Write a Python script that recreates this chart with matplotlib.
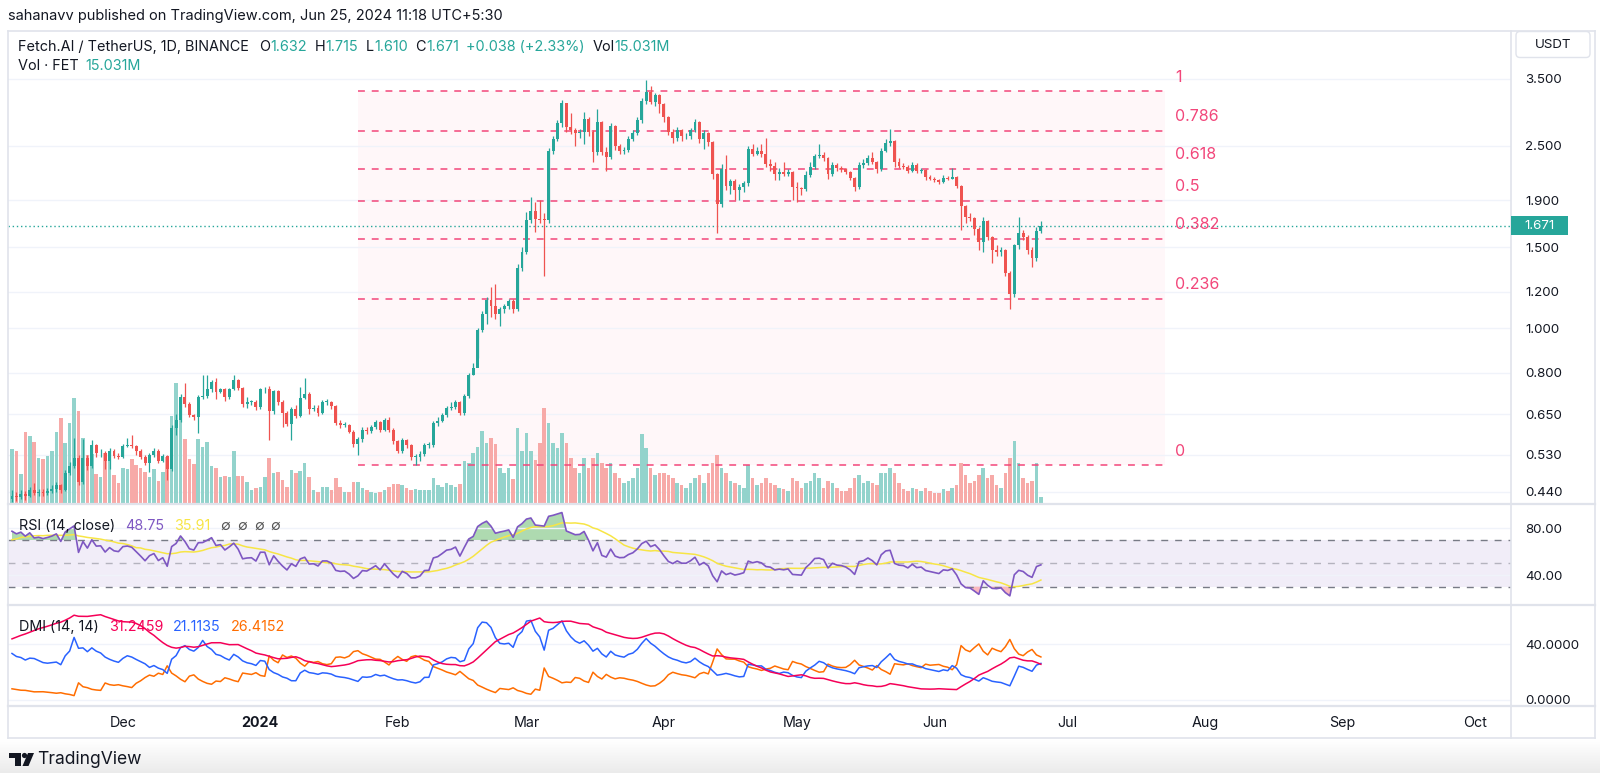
import matplotlib
matplotlib.use("Agg")

import numpy as np
import pandas as pd
import matplotlib.pyplot as plt
from matplotlib.patches import Rectangle, FancyBboxPatch, Circle, Polygon
from matplotlib.colors import LinearSegmentedColormap

# ================= DATA =================
START = "2023-11-06"

# a month of candles before the visible window, only used to warm up RSI / DMI
WARM_CLOSE = [0.300, 0.294, 0.303, 0.297, 0.291, 0.299, 0.305, 0.298, 0.292, 0.300, 0.296,
              0.303, 0.299, 0.306, 0.302, 0.312, 0.306, 0.318, 0.334, 0.326, 0.345, 0.356,
              0.348, 0.368, 0.379, 0.370, 0.390, 0.402, 0.395, 0.418, 0.425]
WARM_HIGH = [0.307, 0.303, 0.309, 0.305, 0.298, 0.305, 0.311, 0.307, 0.299, 0.306, 0.304,
             0.309, 0.306, 0.312, 0.310, 0.318, 0.315, 0.326, 0.340, 0.338, 0.352, 0.362,
             0.358, 0.375, 0.385, 0.382, 0.397, 0.408, 0.405, 0.426, 0.432]
WARM_LOW = [0.293, 0.288, 0.292, 0.290, 0.285, 0.289, 0.296, 0.292, 0.286, 0.290, 0.289,
            0.294, 0.293, 0.297, 0.296, 0.300, 0.296, 0.313, 0.316, 0.310, 0.335, 0.338,
            0.330, 0.356, 0.360, 0.352, 0.380, 0.384, 0.378, 0.408, 0.417]

# daily FET/USDT candles, 2023-11-06 .. 2024-06-25 (open = previous close)
CLOSE = [
    0.432, 0.428, 0.436, 0.430, 0.445, 0.437, 0.440, 0.438, 0.442, 0.447,
    0.455, 0.445, 0.483, 0.500, 0.521, 0.463, 0.521, 0.500, 0.557, 0.534,
    0.536, 0.513, 0.540, 0.528, 0.525, 0.554, 0.558, 0.554, 0.540, 0.525,
    0.508, 0.530, 0.540, 0.515, 0.527, 0.493, 0.605, 0.631, 0.710, 0.684,
    0.647, 0.640, 0.710, 0.712, 0.736, 0.765, 0.727, 0.736, 0.709, 0.736,
    0.770, 0.740, 0.684, 0.690, 0.692, 0.673, 0.736, 0.736, 0.660, 0.729,
    0.690, 0.653, 0.620, 0.666, 0.645, 0.705, 0.720, 0.668, 0.670, 0.653,
    0.690, 0.690, 0.676, 0.623, 0.615, 0.617, 0.595, 0.560, 0.573, 0.600,
    0.597, 0.610, 0.624, 0.600, 0.631, 0.600, 0.567, 0.540, 0.571, 0.557,
    0.525, 0.525, 0.533, 0.557, 0.558, 0.621, 0.629, 0.648, 0.670, 0.675,
    0.690, 0.653, 0.712, 0.790, 0.820, 0.990, 1.075, 1.150, 1.120, 1.075,
    1.100, 1.120, 1.145, 1.100, 1.350, 1.470, 1.720, 1.800, 1.730, 1.725,
    1.720, 2.440, 2.580, 2.800, 3.090, 2.740, 2.700, 2.660, 2.680, 2.860,
    2.680, 2.420, 2.820, 2.420, 2.360, 2.760, 2.500, 2.440, 2.450, 2.580,
    2.660, 2.840, 3.130, 3.280, 3.120, 3.220, 3.080, 2.880, 2.680, 2.600,
    2.700, 2.620, 2.620, 2.700, 2.820, 2.580, 2.660, 2.550, 2.170, 1.870,
    2.220, 2.040, 2.090, 2.000, 2.030, 2.070, 2.460, 2.400, 2.440, 2.400,
    2.280, 2.260, 2.170, 2.190, 2.170, 2.190, 2.030, 2.020, 2.010, 2.160,
    2.250, 2.370, 2.380, 2.350, 2.170, 2.270, 2.230, 2.220, 2.190, 2.130,
    2.030, 2.270, 2.290, 2.350, 2.300, 2.220, 2.440, 2.540, 2.560, 2.300,
    2.260, 2.250, 2.200, 2.270, 2.200, 2.210, 2.140, 2.120, 2.100, 2.080,
    2.130, 2.120, 2.140, 2.040, 1.850, 1.750, 1.740, 1.650, 1.540, 1.710,
    1.580, 1.480, 1.470, 1.480, 1.320, 1.190, 1.520, 1.610, 1.580, 1.480,
    1.420, 1.632, 1.671,
]
HIGH = [
    0.445, 0.440, 0.444, 0.441, 0.452, 0.459, 0.447, 0.446, 0.449, 0.455,
    0.462, 0.458, 0.490, 0.512, 0.578, 0.530, 0.575, 0.530, 0.571, 0.560,
    0.545, 0.540, 0.548, 0.545, 0.535, 0.560, 0.578, 0.585, 0.558, 0.545,
    0.530, 0.536, 0.548, 0.545, 0.532, 0.530, 0.615, 0.650, 0.718, 0.760,
    0.690, 0.652, 0.716, 0.790, 0.790, 0.772, 0.780, 0.742, 0.740, 0.742,
    0.790, 0.775, 0.745, 0.709, 0.698, 0.698, 0.742, 0.745, 0.748, 0.735,
    0.735, 0.698, 0.660, 0.674, 0.680, 0.746, 0.780, 0.725, 0.682, 0.680,
    0.698, 0.700, 0.695, 0.680, 0.630, 0.625, 0.620, 0.600, 0.580, 0.608,
    0.610, 0.617, 0.632, 0.628, 0.638, 0.642, 0.605, 0.570, 0.577, 0.575,
    0.560, 0.532, 0.540, 0.562, 0.565, 0.628, 0.640, 0.655, 0.677, 0.690,
    0.697, 0.695, 0.720, 0.798, 0.840, 1.000, 1.090, 1.170, 1.230, 1.250,
    1.115, 1.130, 1.160, 1.160, 1.380, 1.500, 1.790, 1.930, 1.880, 1.900,
    1.780, 2.470, 2.620, 2.850, 3.150, 3.100, 2.950, 2.730, 2.720, 2.960,
    2.880, 2.700, 3.000, 2.830, 2.480, 2.800, 2.780, 2.520, 2.480, 2.620,
    2.700, 2.880, 3.180, 3.480, 3.380, 3.260, 3.240, 3.100, 2.900, 2.720,
    2.740, 2.720, 2.660, 2.730, 2.860, 2.830, 2.700, 2.680, 2.560, 2.180,
    2.280, 2.380, 2.120, 2.110, 2.060, 2.090, 2.500, 2.520, 2.480, 2.520,
    2.600, 2.340, 2.300, 2.240, 2.300, 2.220, 2.200, 2.080, 2.030, 2.200,
    2.300, 2.400, 2.520, 2.420, 2.360, 2.300, 2.290, 2.260, 2.240, 2.200,
    2.140, 2.300, 2.340, 2.380, 2.420, 2.310, 2.470, 2.580, 2.720, 2.570,
    2.350, 2.290, 2.270, 2.300, 2.290, 2.240, 2.220, 2.160, 2.140, 2.120,
    2.160, 2.150, 2.240, 2.150, 2.050, 1.860, 1.780, 1.750, 1.660, 1.750,
    1.720, 1.590, 1.520, 1.500, 1.490, 1.330, 1.530, 1.750, 1.640, 1.600,
    1.500, 1.660, 1.715,
]
LOW = [
    0.418, 0.420, 0.424, 0.423, 0.428, 0.433, 0.432, 0.431, 0.433, 0.437,
    0.440, 0.438, 0.443, 0.478, 0.497, 0.455, 0.458, 0.492, 0.497, 0.525,
    0.525, 0.493, 0.493, 0.522, 0.518, 0.522, 0.550, 0.548, 0.530, 0.518,
    0.503, 0.486, 0.525, 0.508, 0.510, 0.467, 0.488, 0.585, 0.625, 0.675,
    0.640, 0.630, 0.590, 0.700, 0.706, 0.728, 0.700, 0.722, 0.695, 0.700,
    0.732, 0.732, 0.675, 0.672, 0.680, 0.665, 0.668, 0.722, 0.571, 0.650,
    0.682, 0.610, 0.612, 0.571, 0.636, 0.640, 0.700, 0.650, 0.660, 0.645,
    0.650, 0.680, 0.668, 0.615, 0.605, 0.608, 0.590, 0.552, 0.530, 0.565,
    0.588, 0.590, 0.603, 0.594, 0.598, 0.594, 0.560, 0.535, 0.535, 0.548,
    0.517, 0.503, 0.515, 0.528, 0.548, 0.552, 0.612, 0.625, 0.640, 0.665,
    0.668, 0.646, 0.648, 0.705, 0.790, 0.860, 0.980, 1.020, 1.060, 1.050,
    1.010, 1.080, 1.100, 1.080, 1.090, 1.330, 1.450, 1.700, 1.620, 1.700,
    1.300, 1.700, 2.400, 2.560, 2.750, 2.680, 2.650, 2.500, 2.600, 2.520,
    2.620, 2.300, 2.380, 2.380, 2.200, 2.340, 2.450, 2.400, 2.400, 2.420,
    2.560, 2.640, 2.800, 3.080, 3.080, 3.050, 2.950, 2.820, 2.640, 2.540,
    2.560, 2.560, 2.580, 2.580, 2.680, 2.540, 2.460, 2.500, 2.120, 1.610,
    1.840, 2.000, 1.960, 1.900, 1.900, 1.980, 2.040, 2.370, 2.380, 2.360,
    2.250, 2.200, 2.100, 2.100, 2.150, 2.150, 1.900, 1.880, 1.950, 1.990,
    2.140, 2.220, 2.350, 2.320, 2.120, 2.150, 2.200, 2.190, 2.170, 2.100,
    1.990, 2.010, 2.240, 2.270, 2.280, 2.180, 2.200, 2.420, 2.500, 2.250,
    2.230, 2.220, 2.180, 2.190, 2.180, 2.180, 2.100, 2.100, 2.080, 2.060,
    2.070, 2.100, 2.110, 2.020, 1.640, 1.700, 1.710, 1.600, 1.480, 1.470,
    1.560, 1.390, 1.440, 1.440, 1.300, 1.100, 1.170, 1.490, 1.560, 1.450,
    1.360, 1.400, 1.610,
]
# volume, millions of FET
VOLUME_M = [
    134, 130, 72, 177, 168, 152, 112, 109, 118, 130,
    177, 212, 149, 201, 262, 230, 163, 120, 122, 72,
    64, 124, 106, 69, 51, 87, 86, 110, 95, 87,
    78, 64, 85, 56, 77, 116, 218, 299, 249, 160,
    110, 98, 160, 141, 152, 93, 87, 64, 68, 64,
    131, 68, 68, 53, 33, 37, 41, 66, 113, 75,
    78, 58, 41, 83, 74, 81, 101, 64, 33, 28,
    39, 41, 33, 62, 41, 28, 28, 53, 53, 37,
    33, 27, 24, 28, 33, 41, 47, 47, 45, 38,
    33, 34, 33, 33, 33, 63, 45, 41, 49, 45,
    41, 47, 105, 101, 126, 141, 181, 149, 162, 148,
    87, 74, 87, 60, 187, 131, 176, 131, 108, 150,
    238, 200, 150, 138, 175, 150, 113, 88, 75, 113,
    88, 113, 125, 100, 88, 100, 75, 63, 50, 55,
    63, 88, 172, 138, 88, 70, 75, 75, 70, 63,
    50, 45, 38, 50, 63, 70, 50, 75, 100, 120,
    88, 75, 55, 50, 45, 38, 95, 63, 45, 50,
    63, 50, 45, 38, 35, 30, 63, 55, 38, 50,
    55, 75, 63, 38, 55, 50, 38, 30, 30, 38,
    63, 70, 50, 55, 50, 45, 75, 75, 88, 75,
    50, 35, 30, 38, 35, 30, 38, 30, 25, 25,
    35, 30, 38, 45, 100, 70, 50, 55, 70, 88,
    63, 70, 45, 38, 75, 113, 155, 100, 63, 50,
    55, 100, 15,
]

# fib retracement drawing: anchor prices and the dates it spans
FIB_LOW, FIB_HIGH = 0.503, 3.29
FIB_FROM, FIB_TO = "2024-01-23", "2024-07-23"
FIB_LEVELS = [0, 0.236, 0.382, 0.5, 0.618, 0.786, 1]
FIB_LABELS = ["0", "0.236", "0.382", "0.5", "0.618", "0.786", "1"]

LAST_PRICE = 1.671
PRICE_TICKS = [3.5, 2.5, 1.9, 1.5, 1.2, 1.0, 0.8, 0.65, 0.53, 0.44]
PRICE_TICK_LABELS = ["3.500", "2.500", "1.900", "1.500", "1.200", "1.000", "0.800", "0.650", "0.530", "0.440"]

MONTH_DATES = ["2023-12-01", "2024-01-01", "2024-02-01", "2024-03-01", "2024-04-01", "2024-05-01",
               "2024-06-01", "2024-07-01", "2024-08-01", "2024-09-01", "2024-10-01"]
MONTH_LABELS = ["Dec", "2024", "Feb", "Mar", "Apr", "May", "Jun", "Jul", "Aug", "Sep", "Oct"]
# ========================================

W, H = 1600, 773
UP, DOWN = "#26a69a", "#ef5350"
VOL_UP, VOL_DOWN = "#93d3cc", "#f7aaa8"
FIB_COL = "#f2467a"
GRID = "#f0f3fa"
BORDER = "#e0e3eb"
TXT = "#131722"
X_LIM = (-0.9, 338.0)

plt.rcParams["font.family"] = ["Inter", "DejaVu Sans"]


def px_rect(x0, y0, x1, y1):
    return [x0 / W, 1 - y1 / H, (x1 - x0) / W, (y1 - y0) / H]


def day(s):
    return (pd.Timestamp(s) - pd.Timestamp(START)).days


def rma(values, n):
    """Wilder moving average, seeded with the SMA of the first n valid values."""
    v = np.asarray(values, dtype=float)
    out = np.full(len(v), np.nan)
    valid = np.where(~np.isnan(v))[0]
    if len(valid) < n:
        return out
    s = valid[0]
    out[s + n - 1] = v[s:s + n].mean()
    for i in range(s + n, len(v)):
        out[i] = out[i - 1] + (v[i] - out[i - 1]) / n
    return out


def calc_rsi(close, n=14):
    d = np.diff(close, prepend=np.nan)
    up = rma(np.where(np.isnan(d), np.nan, np.clip(d, 0, None)), n)
    dn = rma(np.where(np.isnan(d), np.nan, np.clip(-d, 0, None)), n)
    return 100 - 100 / (1 + up / dn)


def calc_dmi(high, low, close, n=14, smooth=14):
    up = np.diff(high, prepend=np.nan)
    dn = -np.diff(low, prepend=np.nan)
    plus_dm = np.where((up > dn) & (up > 0), up, 0.0)
    minus_dm = np.where((dn > up) & (dn > 0), dn, 0.0)
    plus_dm[0] = minus_dm[0] = np.nan
    prev_c = np.concatenate([[np.nan], close[:-1]])
    tr = np.nanmax(np.vstack([high - low, np.abs(high - prev_c), np.abs(low - prev_c)]), axis=0)
    tr[0] = np.nan
    atr = rma(tr, n)
    plus = 100 * rma(plus_dm, n) / atr
    minus = 100 * rma(minus_dm, n) / atr
    s = plus + minus
    s = np.where(s == 0, 1, s)
    adx = 100 * rma(np.abs(plus - minus) / s, smooth)
    return plus, minus, adx


def main():
    n_warm = len(WARM_CLOSE)
    close_all = np.array(WARM_CLOSE + CLOSE, dtype=float)
    high_all = np.array(WARM_HIGH + HIGH, dtype=float)
    low_all = np.array(WARM_LOW + LOW, dtype=float)

    rsi_all = calc_rsi(close_all)
    rsi_ma_all = pd.Series(rsi_all).rolling(14).mean().values
    plus_all, minus_all, adx_all = calc_dmi(high_all, low_all, close_all)

    close = np.array(CLOSE)
    opn = close_all[n_warm - 1:-1]
    high = np.array(HIGH)
    low = np.array(LOW)
    vol = np.array(VOLUME_M, dtype=float)
    x = np.arange(len(CLOSE))
    rsi = rsi_all[n_warm:]
    rsi_ma = rsi_ma_all[n_warm:]
    plus = plus_all[n_warm:]
    minus = minus_all[n_warm:]
    adx = adx_all[n_warm:]

    is_up = close >= opn

    fig = plt.figure(figsize=(W / 100, H / 100), dpi=100)
    fig.patch.set_facecolor("white")

    # ---------- main pane: background layer ----------
    main_rect = px_rect(8, 31, 1511, 503)
    p_lim = (0.4162, 4.445)
    bg = fig.add_axes(main_rect, zorder=1)
    bg.set_yscale("log")
    bg.set_ylim(*p_lim)
    bg.set_xlim(*X_LIM)
    bg.axis("off")
    for p in PRICE_TICKS:
        bg.axhline(p, color=GRID, lw=1.0)
    fib_prices = [FIB_LOW + lv * (FIB_HIGH - FIB_LOW) for lv in FIB_LEVELS]
    f0, f1 = day(FIB_FROM), day(FIB_TO)
    bg.fill_between([f0, f1], fib_prices[0], fib_prices[-1], color="#fff7f9", lw=0)

    # ---------- volume layer ----------
    vax = fig.add_axes(main_rect, zorder=2)
    vax.patch.set_alpha(0)
    vax.set_xlim(*X_LIM)
    vax.set_ylim(0, 1180)
    vax.axis("off")
    vax.bar(x, vol, width=0.8, color=np.where(is_up, VOL_UP, VOL_DOWN), lw=0)

    # ---------- candles, fib lines ----------
    ax = fig.add_axes(main_rect, zorder=3)
    ax.patch.set_alpha(0)
    ax.set_yscale("log")
    ax.set_ylim(*p_lim)
    ax.set_xlim(*X_LIM)
    for s in ax.spines.values():
        s.set_visible(False)
    ax.set_xticks([])
    ax.yaxis.set_minor_locator(matplotlib.ticker.NullLocator())
    ax.set_yticks(PRICE_TICKS)
    ax.set_yticklabels(PRICE_TICK_LABELS)
    ax.yaxis.tick_right()
    ax.tick_params(axis="y", length=0, pad=10, labelsize=9.6, labelcolor=TXT)

    for p, lab in zip(fib_prices, FIB_LABELS):
        ax.plot([f0, f1], [p, p], color=FIB_COL, lw=1.1, ls=(0, (4.5, 4.5)), zorder=2)
        ax.annotate(lab, (f1, p), xytext=(7, 6.8), textcoords="offset points",
                    color=FIB_COL, fontsize=11.5, ha="left", va="baseline")

    ccol = np.where(is_up, UP, DOWN)
    ax.vlines(x, low, high, colors=ccol, lw=0.9, zorder=3)
    body_lo = np.minimum(opn, close)
    body_hi = np.maximum(opn, close)
    body_h = np.maximum(body_hi - body_lo, body_lo * 0.004)
    ax.bar(x, body_h, bottom=body_lo, width=0.66, color=ccol, lw=0, zorder=4)

    ax.axhline(LAST_PRICE, color=UP, lw=1.0, ls=(0, (1, 2)), zorder=1)

    # ---------- RSI pane ----------
    rax = fig.add_axes(px_rect(8, 505, 1511, 603), zorder=2)
    rax.set_xlim(*X_LIM)
    rax.set_ylim(16, 100)
    for s in rax.spines.values():
        s.set_visible(False)
    rax.set_xticks([])
    rax.set_yticks([80, 40])
    rax.set_yticklabels(["80.00", "40.00"])
    rax.yaxis.tick_right()
    rax.tick_params(axis="y", length=0, pad=10, labelsize=9.6, labelcolor=TXT)
    rax.axhline(80, color=GRID, lw=1.0)
    rax.axhline(40, color=GRID, lw=1.0)
    rax.axhspan(30, 70, color="#7e57c2", alpha=0.1, lw=0)
    rax.axhline(70, color="#787b86", lw=1.0, ls=(0, (5, 5)))
    rax.axhline(50, color="#787b86", lw=1.0, ls=(0, (5, 5)), alpha=0.5)
    rax.axhline(30, color="#787b86", lw=1.0, ls=(0, (5, 5)))
    rax.fill_between(x, 70, rsi, where=rsi > 70, interpolate=True, color="#4caf50", alpha=0.45, lw=0)
    rax.fill_between(x, 30, rsi, where=rsi < 30, interpolate=True, color="#f23645", alpha=0.35, lw=0)
    rax.plot(x, rsi_ma, color="#f7e545", lw=1.1)
    rax.plot(x, rsi, color="#7e57c2", lw=1.2)

    # ---------- DMI pane ----------
    dax = fig.add_axes(px_rect(8, 606, 1511, 705), zorder=2)
    dax.set_xlim(*X_LIM)
    dax.set_ylim(-3.6, 67.5)
    for s in dax.spines.values():
        s.set_visible(False)
    dax.set_xticks([])
    dax.set_yticks([40, 0])
    dax.set_yticklabels(["40.0000", "0.0000"])
    dax.yaxis.tick_right()
    dax.tick_params(axis="y", length=0, pad=10, labelsize=9.6, labelcolor=TXT)
    dax.axhline(40, color=GRID, lw=1.0)
    dax.axhline(0, color=GRID, lw=1.0)
    dax.plot(x, minus, color="#ff6d00", lw=1.1)
    dax.plot(x, plus, color="#2962ff", lw=1.1)
    dax.plot(x, adx, color="#f50057", lw=1.1)

    # ---------- time scale ----------
    tax = fig.add_axes(px_rect(8, 706, 1511, 738), zorder=2)
    tax.set_xlim(*X_LIM)
    tax.set_ylim(0, 1)
    tax.axis("off")
    for d, lab in zip(MONTH_DATES, MONTH_LABELS):
        tax.text(day(d), 0.47, lab, ha="center", va="center", fontsize=10.3, color=TXT,
                 fontweight="bold" if lab == "2024" else "normal")

    # ---------- overlay: frame, legends, labels ----------
    top = fig.add_axes([0, 0, 1, 1], zorder=10)
    top.patch.set_alpha(0)
    top.set_xlim(0, W)
    top.set_ylim(H, 0)
    top.axis("off")

    grad = np.linspace(0, 1, 40).reshape(-1, 1)
    cmap = LinearSegmentedColormap.from_list("fade", ["#ffffff", "#ebebeb"])
    top.imshow(grad, extent=(0, W, H, 740), cmap=cmap, aspect="auto", zorder=0)
    top.set_xlim(0, W)
    top.set_ylim(H, 0)

    frame_kw = dict(color=BORDER, lw=1.2, zorder=1)
    top.plot([8, 1595], [31, 31], **frame_kw)
    top.plot([8, 1595], [738, 738], **frame_kw)
    top.plot([8, 8], [31, 738], **frame_kw)
    top.plot([1595, 1595], [31, 738], **frame_kw)
    top.plot([1511, 1511], [31, 738], **frame_kw)
    for yy in (504, 604.5, 705.5):
        top.plot([8, 1595], [yy, yy], color=BORDER, lw=1.6, zorder=1)

    top.add_patch(FancyBboxPatch((1516, 31.5), 74, 26, boxstyle="round,pad=0,rounding_size=4",
                                 fc="white", ec=BORDER, lw=1.0, zorder=2))
    top.text(1553, 44.5, "USDT", ha="center", va="center", fontsize=9.6, color=TXT, zorder=3)

    # last price tag on the price scale
    y_last = H - ax.transData.transform((0, LAST_PRICE))[1]
    top.add_patch(Rectangle((1511, y_last - 9.5), 57, 19, fc=UP, ec="none", zorder=2))
    top.text(1524, y_last, f"{LAST_PRICE:.3f}", ha="left", va="center", fontsize=9.6,
             color="white", zorder=3)

    fig.canvas.draw()
    renderer = fig.canvas.get_renderer()

    def text_row(x0, y0, parts, size):
        xx = x0
        for s, col, gap in parts:
            t = top.text(xx, y0, s, ha="left", va="center", fontsize=size, color=col, zorder=5)
            xx += t.get_window_extent(renderer).width + gap
        return xx

    top.text(8, 16, "sahanavv published on TradingView.com, Jun 25, 2024 11:18 UTC+5:30",
             ha="left", va="center", fontsize=10.5, color=TXT)

    text_row(18, 47, [
        ("Fetch.AI / TetherUS, 1D, BINANCE", TXT, 10),
        ("O", TXT, 0), ("1.632", UP, 8),
        ("H", TXT, 0), ("1.715", UP, 8),
        ("L", TXT, 0), ("1.610", UP, 8),
        ("C", TXT, 0), ("1.671", UP, 7),
        ("+0.038 (+2.33%)", UP, 8),
        ("Vol", TXT, 0), ("15.031M", UP, 0),
    ], 10.4)
    text_row(18, 66, [("Vol · FET", TXT, 7), ("15.031M", UP, 0)], 10.4)

    text_row(19, 526, [
        ("RSI (14, close)", TXT, 10), ("48.75", "#7e57c2", 10), ("35.91", "#f7e545", 10),
        ("∅", "#555555", 7), ("∅", "#555555", 7), ("∅", "#555555", 7), ("∅", "#555555", 0),
    ], 10.3)
    text_row(19, 627, [
        ("DMI (14, 14)", TXT, 10), ("31.2459", "#f50057", 10), ("21.1135", "#2962ff", 10),
        ("26.4152", "#ff6d00", 0),
    ], 10.3)

    # TradingView logo
    top.add_patch(Rectangle((9, 753), 12, 5, fc=TXT, ec="none", zorder=5))
    top.add_patch(Rectangle((15, 753), 6, 13, fc=TXT, ec="none", zorder=5))
    top.add_patch(Circle((24.5, 755.5), 2.6, fc=TXT, ec="none", zorder=5))
    top.add_patch(Polygon([(28, 753), (34, 753), (28.5, 766), (22.5, 766)], closed=True,
                          fc=TXT, ec="none", zorder=5))
    top.text(37, 759.5, "TradingView", ha="left", va="center", fontsize=12.6, color=TXT, zorder=5)

    fig.savefig("out.png", dpi=100, facecolor="white")
    plt.close(fig)


if __name__ == "__main__":
    main()
